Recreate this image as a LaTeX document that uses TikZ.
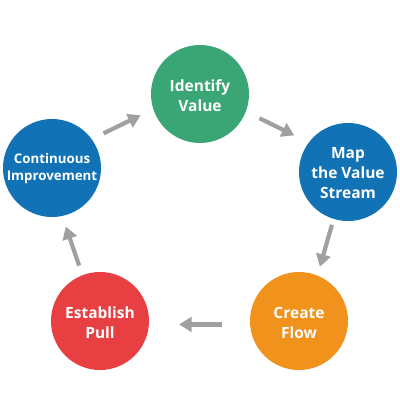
\documentclass[tikz,border=0pt]{standalone}
\usepackage{fontspec}
\setmainfont{Open Sans}
\usetikzlibrary{arrows.meta}
\definecolor{cgreen}{HTML}{3AA676}
\definecolor{cblue}{HTML}{1173B5}
\definecolor{corange}{HTML}{F0921B}
\definecolor{cred}{HTML}{E84042}
\definecolor{agray}{HTML}{A0A0A0}
\begin{document}
\begin{tikzpicture}[x=1pt,y=-1pt,
  stage/.style={circle, minimum size=98pt, inner sep=0pt, fill=#1},
  stagetext/.style={text=white, inner sep=0pt,
    font=\bfseries\fontsize{15.5}{20}\selectfont, align=center},
  flowarrow/.style={draw=agray, line width=4.2pt,
    -{Triangle[length=12.5pt,width=14.5pt]}}]
\useasboundingbox[fill=white] (0,0) rectangle (400,400);
\node[stage=cgreen] (iv) at (200,94) {};
\node[stage=cblue] (map) at (348,172) {};
\node[stage=corange] (cf) at (299,321) {};
\node[stage=cred] (ep) at (100,321) {};
\node[stage=cblue] (ci) at (52,168) {};
\node[stagetext] (ivt) at ([yshift=-2pt]iv.center) {Identify\\Value};
\node[stagetext] (mapt) at ([yshift=-1pt]map.center) {Map\\the Value\\Stream};
\node[stagetext] (cft) at ([yshift=-2pt]cf.center) {Create\\Flow};
\node[stagetext] (ept) at ([yshift=-2pt]ep.center) {Establish\\Pull};
\node[stagetext, font=\bfseries\fontsize{13.3}{17}\selectfont] (cit) at ([yshift=-1pt]ci.center) {Continuous\\Improvement};
\draw[flowarrow, shorten <=13pt, shorten >=14pt] (ci.36) -- (iv.198);
\draw[flowarrow, shorten <=15pt, shorten >=16pt] (iv.-21) -- (map.143);
\draw[flowarrow, shorten <=6pt, shorten >=9pt] (map.253) -- (cf.68);
\draw[flowarrow, shorten <=28pt, shorten >=30pt] (cf.184) -- (ep.-4);
\draw[flowarrow, shorten <=10pt, shorten >=11pt] (ep.111) -- (ci.-78);
\end{tikzpicture}
\end{document}
